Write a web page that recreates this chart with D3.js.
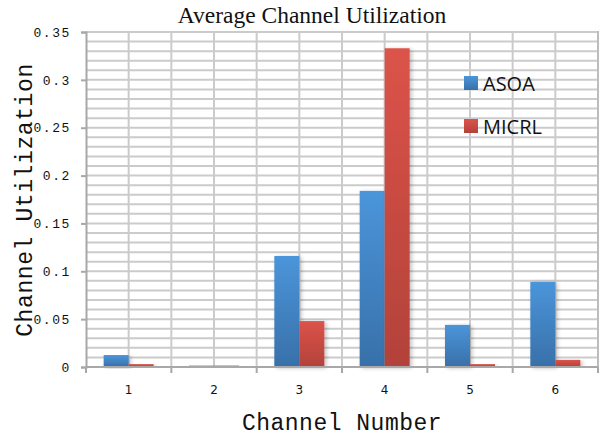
<!DOCTYPE html>
<html>
<head>
<meta charset="utf-8">
<script src="https://cdn.jsdelivr.net/npm/d3@7"></script>
<style>
  html, body { margin: 0; padding: 0; background: #fff; }
  svg { display: block; }
</style>
</head>
<body>
<svg id="chart" width="616" height="436"></svg>
<script>
// Average channel utilization per channel for two schemes
const channels = ["1", "2", "3", "4", "5", "6"];
const seriesNames = ["ASOA", "MICRL"];
const asoaValues = [0.0125, 0.0015, 0.116, 0.184, 0.044, 0.089];
const micrlValues = [0.003, 0.0015, 0.048, 0.333, 0.003, 0.0075];
const yTicks = [0, 0.05, 0.1, 0.15, 0.2, 0.25, 0.3, 0.35];
const yTickLabels = ["0", "0.05", "0.1", "0.15", "0.2", "0.25", "0.3", "0.35"];

const series = [
  { name: seriesNames[0], values: asoaValues, top: "#4b95da", bottom: "#3870a9" },
  { name: seriesNames[1], values: micrlValues, top: "#dc5349", bottom: "#b2423a" }
];

const svg = d3.select("#chart");
const margin = { left: 86, top: 32, right: 18, bottom: 69 };
const W = 616, H = 436;
const x0 = margin.left, x1 = W - margin.right;
const y0 = H - margin.bottom, y1 = margin.top;

const x = d3.scaleBand().domain(channels).range([x0, x1]).padding(0);
const xHalf = d3.scaleLinear().domain([0, channels.length * 2]).range([x0, x1]);
const y = d3.scaleLinear().domain([0, 0.35]).range([y0, y1]);
const inner = d3.scaleBand().domain(seriesNames).range([0, 50]);

// gradients for bars
const defs = svg.append("defs");
series.forEach((s, i) => {
  const g = defs.append("linearGradient").attr("id", "grad" + i)
    .attr("x1", 0).attr("y1", 0).attr("x2", 0).attr("y2", 1);
  g.append("stop").attr("offset", "0%").attr("stop-color", s.top);
  g.append("stop").attr("offset", "100%").attr("stop-color", s.bottom);
});
const shadow = defs.append("filter").attr("id", "shadow")
  .attr("x", "-20%").attr("y", "-5%").attr("width", "160%").attr("height", "115%");
shadow.append("feGaussianBlur").attr("in", "SourceAlpha").attr("stdDeviation", 2);
shadow.append("feOffset").attr("dx", 2).attr("dy", 1).attr("result", "ob");
shadow.append("feComponentTransfer").append("feFuncA").attr("type", "linear").attr("slope", 0.25);
const merge = shadow.append("feMerge");
merge.append("feMergeNode");
merge.append("feMergeNode").attr("in", "SourceGraphic");

// grid: horizontal every 0.01, vertical every half channel
const grid = svg.append("g");
grid.selectAll("line.h").data(d3.range(0, 36).map(i => i / 100))
  .join("line")
  .attr("x1", x0).attr("x2", x1)
  .attr("y1", d => y(d)).attr("y2", d => y(d))
  .attr("stroke", "#cbcbcb").attr("stroke-width", 2);
grid.selectAll("line.v").data(d3.range(1, channels.length * 2 + 1))
  .join("line")
  .attr("x1", d => xHalf(d)).attr("x2", d => xHalf(d))
  .attr("y1", y1).attr("y2", y0)
  .attr("stroke", "#cbcbcb").attr("stroke-width", 2);

// right border slightly darker
svg.append("line").attr("x1", x1).attr("x2", x1).attr("y1", y1 - 1).attr("y2", y0 + 6)
  .attr("stroke", "#bdbdbd").attr("stroke-width", 2);

// bars
series.forEach((s, i) => {
  svg.append("g").selectAll("rect")
    .data(channels.map((c, j) => ({ c, v: s.values[j] })))
    .join("rect")
    .attr("x", d => x(d.c) + x.bandwidth() / 2 - 25 + inner(s.name))
    .attr("width", inner.bandwidth())
    .attr("y", d => y(d.v))
    .attr("height", d => y0 - y(d.v))
    .attr("fill", "url(#grad" + i + ")")
    .attr("filter", "url(#shadow)");
});

// y axis
const yAxis = d3.axisLeft(y).tickValues(yTicks)
  .tickFormat((d, i) => yTickLabels[i]).tickSize(5).tickPadding(10);
const ya = svg.append("g").attr("transform", `translate(${x0},0)`).call(yAxis);
ya.select(".domain").attr("stroke", "#a8a8a8").attr("stroke-width", 2);
ya.selectAll(".tick line").attr("stroke", "#a8a8a8").attr("stroke-width", 2);
ya.selectAll("text").attr("font-family", "Liberation Mono, monospace")
  .attr("font-size", 13).attr("letter-spacing", 1.6).attr("fill", "#111");

// x axis: ticks at channel boundaries, labels at centers
const xa = svg.append("g").attr("transform", `translate(0,${y0})`);
xa.append("line").attr("x1", x0).attr("x2", x1).attr("y1", 0).attr("y2", 0)
  .attr("stroke", "#a8a8a8").attr("stroke-width", 2);
xa.selectAll("line.t").data(d3.range(0, channels.length + 1))
  .join("line")
  .attr("x1", d => xHalf(d * 2)).attr("x2", d => xHalf(d * 2))
  .attr("y1", 0).attr("y2", 6)
  .attr("stroke", "#a8a8a8").attr("stroke-width", 2);
xa.selectAll("text").data(channels).join("text")
  .attr("x", d => x(d) + x.bandwidth() / 2)
  .attr("y", 27)
  .attr("text-anchor", "middle")
  .attr("font-family", "DejaVu Sans, sans-serif")
  .attr("font-size", 12).attr("fill", "#111")
  .text(d => d);

// title
svg.append("text").attr("x", 312).attr("y", 23).attr("text-anchor", "middle")
  .attr("font-family", "Liberation Serif, serif").attr("font-size", 23.5)
  .attr("fill", "#111").text("Average Channel Utilization");

// axis titles
svg.append("text").attr("x", 342).attr("y", 430).attr("text-anchor", "middle")
  .attr("font-family", "Liberation Mono, monospace").attr("font-size", 23)
  .attr("letter-spacing", 0.5)
  .attr("fill", "#111").text("Channel Number");
svg.append("text")
  .attr("transform", "translate(32,200) rotate(-90)")
  .attr("text-anchor", "middle")
  .attr("font-family", "Liberation Mono, monospace").attr("font-size", 23)
  .attr("letter-spacing", 0.6)
  .attr("fill", "#111").text("Channel Utilization");

// legend
const legend = svg.append("g");
series.forEach((s, i) => {
  const ly = 76 + i * 43;
  legend.append("rect").attr("x", 464).attr("y", ly).attr("width", 14).attr("height", 14)
    .attr("fill", "url(#grad" + i + ")");
  legend.append("text").attr("x", 483).attr("y", ly + 15)
    .attr("font-family", "Open Sans, sans-serif").attr("font-size", 20)
    .attr("fill", "#111").text(s.name);
});
</script>
</body>
</html>
